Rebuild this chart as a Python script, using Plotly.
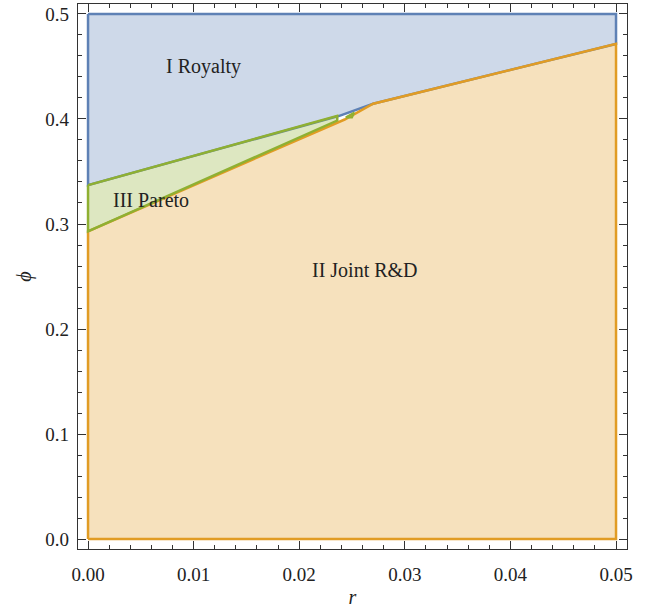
import plotly.graph_objects as go

# Region boundary vertices (r, phi)
royalty_r = [0.0, 0.05, 0.05, 0.0270, 0.0238, 0.0]
royalty_phi = [0.5, 0.5, 0.4715, 0.4145, 0.4030, 0.337]

joint_r = [0.0, 0.05, 0.05, 0.0270, 0.0243, 0.0]
joint_phi = [0.0, 0.0, 0.4715, 0.4145, 0.3995, 0.293]

pareto_r = [0.0, 0.0236, 0.0236, 0.0]
pareto_phi = [0.337, 0.4030, 0.3985, 0.293]

pareto_small_r = [0.0244, 0.0252, 0.0250]
pareto_small_phi = [0.4015, 0.4060, 0.4015]

labels = ["I Royalty", "III Pareto", "II Joint R&amp;D"]
label_r = [0.0109, 0.0060, 0.0262]
label_phi = [0.4497, 0.3226, 0.2560]

x_ticks = [0.0, 0.01, 0.02, 0.03, 0.04, 0.05]
y_ticks = [0.0, 0.1, 0.2, 0.3, 0.4, 0.5]

BLUE = "#5E81B5"
ORANGE = "#E19C24"
GREEN = "#8FB032"
FONT = "Liberation Serif"

fig = go.Figure()

def closed(a):
    return list(a) + [a[0]]

fig.add_trace(go.Scatter(x=closed(royalty_r), y=closed(royalty_phi), fill="toself",
                         fillcolor="rgba(94,129,181,0.3)", mode="lines",
                         line=dict(color=BLUE, width=2.5), hoverinfo="skip"))
fig.add_trace(go.Scatter(x=closed(joint_r), y=closed(joint_phi), fill="toself",
                         fillcolor="rgba(225,156,36,0.3)", mode="lines",
                         line=dict(color=ORANGE, width=2.5), hoverinfo="skip"))
fig.add_trace(go.Scatter(x=closed(pareto_r), y=closed(pareto_phi), fill="toself",
                         fillcolor="rgba(143,176,50,0.3)", mode="lines",
                         line=dict(color=GREEN, width=2.5), hoverinfo="skip"))
fig.add_trace(go.Scatter(x=closed(pareto_small_r), y=closed(pareto_small_phi), fill="toself",
                         fillcolor="rgba(143,176,50,0.3)", mode="lines",
                         line=dict(color=GREEN, width=2), hoverinfo="skip"))

for t, xr, yp in zip(labels, label_r, label_phi):
    fig.add_annotation(x=xr, y=yp, text=t, showarrow=False,
                       font=dict(family=FONT, size=20, color="#222"))

axis_common = dict(
    showgrid=False, zeroline=False, showline=True, linecolor="#333", linewidth=1.3,
    mirror="allticks", ticks="inside", ticklen=8, tickwidth=1.2, tickcolor="#333",
    tickfont=dict(family=FONT, size=19, color="#222"),
)

fig.update_layout(
    width=653, height=608,
    margin=dict(l=78, r=26, t=3, b=58),
    plot_bgcolor="white", paper_bgcolor="white",
    showlegend=False,
    xaxis=dict(range=[-0.00095, 0.05104], tickvals=x_ticks, tickformat=".2f",
               ticklabelstandoff=8,
               minor=dict(dtick=0.002, tick0=0, ticks="inside", ticklen=4, tickcolor="#333"),
               title=dict(text="<i>r</i>", font=dict(family=FONT, size=20, color="#222"),
                          standoff=6),
               **axis_common),
    yaxis=dict(range=[-0.0095, 0.5095], tickvals=y_ticks, tickformat=".1f",
               ticklabelstandoff=4,
               minor=dict(dtick=0.02, tick0=0, ticks="inside", ticklen=4, tickcolor="#333"),
               title=dict(text="<i>ϕ</i>", font=dict(family=FONT, size=20, color="#222"),
                          standoff=8),
               **axis_common),
)

fig.write_html("out.html")
